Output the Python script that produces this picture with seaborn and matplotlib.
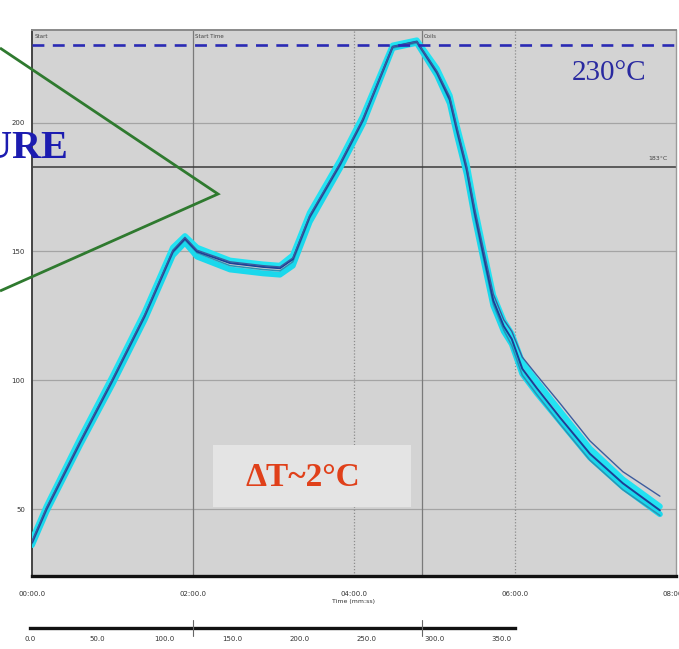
import pandas as pd
import matplotlib
matplotlib.use("Agg")
import matplotlib.pyplot as plt
from matplotlib.ticker import MultipleLocator, FuncFormatter
from matplotlib.patches import Rectangle, Polygon
import seaborn as sns

# Data (time in minutes, temperature in degC)
time_min = [0, 0.18, 0.6, 1.0, 1.4, 1.75, 1.9, 2.05, 2.46, 2.87, 3.08, 3.24, 3.45, 3.83,
            4.11, 4.48, 4.78, 5.03, 5.19, 5.28, 5.4, 5.5, 5.6, 5.73, 5.86, 5.96, 6.09,
            6.27, 6.56, 6.93, 7.34, 7.8]

tc_center = [37, 50, 76, 100, 125, 150, 155, 150, 145.5, 144, 143.5, 147, 163.5, 184,
             201, 229.5, 231.5, 219.5, 209, 197, 182, 165, 150, 131, 121, 116, 104.5,
             97, 85.5, 71.5, 60, 49.5]
tc_high = [38, 51, 77.5, 101.5, 126.5, 151.5, 156, 151.5, 146.5, 145, 144.5, 148.5, 165,
           185.5, 202.5, 230, 232, 221, 210.5, 198.5, 184, 167, 152, 133, 123, 118, 107,
           99.5, 88, 73.5, 61.5, 51]
tc_low = [36, 49, 75, 98.5, 123.5, 148.5, 153.5, 148, 143, 141.5, 141, 144.5, 161.5,
          182.5, 199.5, 229, 231, 218.5, 207.5, 195, 180, 163, 148, 129, 119, 114, 102.5,
          95, 84, 70, 58.5, 48]
tc_slow = [37.5, 50.5, 76.5, 100.5, 125.5, 150.5, 155.5, 150.5, 146, 144.5, 144, 147.5,
           164, 184.5, 201.5, 229.5, 231.5, 220, 210, 198, 183, 166.5, 152, 133.5, 123.5,
           119, 109, 102, 91, 76.5, 64.5, 55]
tc_fast = [36.5, 49.5, 75.5, 99.5, 124.5, 149.5, 154.5, 149.5, 144.5, 143, 142.5, 146,
           163, 183.5, 200.5, 229, 231, 219, 208.5, 196, 181, 163.5, 148.5, 129.5, 119.5,
           113.5, 102, 94.5, 83, 69, 57.5, 47.5]

x_ticks = [0, 2, 4, 6, 8]
y_ticks = [50, 100, 150, 200]
scale_ticks = [0, 50, 100, 150, 200, 250, 300, 350]

peak_limit = 230
liquidus = 183
markers = [(0, "Start"), (2.0, "Start Time"), (4.84, "Coils")]

traces = {"TC high": tc_high, "TC low": tc_low, "TC fast": tc_fast,
          "TC center": tc_center, "TC slow": tc_slow}
df = pd.concat([pd.DataFrame({"time": time_min, "temp": v, "trace": k})
                for k, v in traces.items()], ignore_index=True)

sns.set_style("white")
plt.rcParams["font.family"] = ["DejaVu Sans"]

fig = plt.figure(figsize=(6.79, 6.49), dpi=100)
W, H = 679, 649
ax = fig.add_axes([32 / W, 1 - 576 / H, 644 / W, 546 / H])
ax.set_facecolor("#d3d3d3")

# grid / reference lines
for y in y_ticks:
    ax.axhline(y, color="#a4a4a4", lw=0.9, zorder=1)
for x in [4, 6]:
    ax.axvline(x, color="#8c8c8c", lw=0.9, ls=(0, (1, 1.5)), zorder=1)
for x, _ in markers[1:]:
    ax.axvline(x, color="#7a7a7a", lw=0.9, zorder=1)
ax.axhline(liquidus, color="#3a3a3a", lw=1.1, zorder=2)
ax.axhline(peak_limit, color="#2a2ab4", lw=1.9, ls=(0, (4.5, 3.2)), zorder=6)

# thermocouple traces
styles = {"TC high": ("#22e2f2", 4.2), "TC low": ("#1ad8ec", 4.2),
          "TC fast": ("#2b93b5", 1.1), "TC center": ("#1d3f95", 1.4),
          "TC slow": ("#3d5c9e", 1.0)}
for name, (color, lw) in styles.items():
    sns.lineplot(data=df[df["trace"] == name], x="time", y="temp", color=color,
                 lw=lw, ax=ax, estimator=None, sort=False, legend=False, zorder=4)

ax.set_xlim(0, 8)
ax.set_ylim(24, 236)
ax.set_xticks(x_ticks)
ax.xaxis.set_major_formatter(FuncFormatter(lambda v, p: f"{int(v):02d}:00.0"))
ax.xaxis.set_minor_locator(MultipleLocator(0.4))
ax.set_yticks(y_ticks)
ax.yaxis.set_minor_locator(MultipleLocator(10))
ax.tick_params(axis="both", which="major", labelsize=5, colors="#333333",
               length=3, width=0.8, direction="out", pad=2)
ax.tick_params(axis="both", which="minor", length=2, width=0.6, color="#555555",
               direction="out")
ax.tick_params(axis="x", which="major", pad=8)
ax.set_xlabel("Time (mm:ss)", fontsize=4.5, color="#333333", labelpad=1)
ax.set_ylabel("")
for side, (c, w) in {"bottom": ("#111111", 2.4), "left": ("#444444", 1.4),
                     "top": ("#8a8a8a", 1.4), "right": ("#9a9a9a", 1.0)}.items():
    ax.spines[side].set_color(c)
    ax.spines[side].set_linewidth(w)

for x, lab in markers:
    ax.text(x + 0.03, 234.5, lab, fontsize=4, color="#444444", va="top", zorder=7)
ax.text(7.9, 185, "183°C", fontsize=4.5, color="#444444", ha="right", va="bottom")

# secondary scale under the chart
ax2 = fig.add_axes([30 / W, 1 - 628 / H, 485 / W, 0.0015])
ax2.set_xlim(0, 360)
ax2.set_yticks([])
ax2.set_xticks(scale_ticks)
ax2.set_xticklabels([f"{v:.1f}" for v in scale_ticks])
ax2.xaxis.set_minor_locator(MultipleLocator(10))
ax2.tick_params(axis="x", which="major", labelsize=5, colors="#333333", length=4, pad=2)
ax2.tick_params(axis="x", which="minor", length=2.5, width=0.6)
for side in ["top", "left", "right"]:
    ax2.spines[side].set_visible(False)
ax2.spines["bottom"].set_linewidth(2.4)
ax2.spines["bottom"].set_color("#111111")

# slide overlay (pixel coordinates)
ov = fig.add_axes([0, 0, 1, 1], facecolor="none", zorder=10)
ov.set_xlim(0, W)
ov.set_ylim(H, 0)
ov.axis("off")
ov.add_patch(Polygon([(0, 48), (218, 194), (0, 291)], closed=False, fill=False,
                     edgecolor="#2f7a2f", lw=2.0))
ov.add_patch(Rectangle((213, 445), 198, 62, facecolor="#e4e4e4", edgecolor="none"))
ov.text(303, 478, "ΔT~2°C", fontsize=24, fontweight="bold", color="#e0401a",
        family="Liberation Serif", ha="center", va="center")
ov.text(68, 149, "URE", fontsize=29, fontweight="bold", color="#1c1cb0",
        family="Liberation Serif", ha="right", va="center")
ov.text(609, 73, "230°C", fontsize=21, color="#2a2aa0", family="Liberation Serif",
        ha="center", va="center")
for x in [193, 422]:
    ov.plot([x, x], [620, 636], color="#666666", lw=0.8)

fig.savefig("out.png", dpi=100)
